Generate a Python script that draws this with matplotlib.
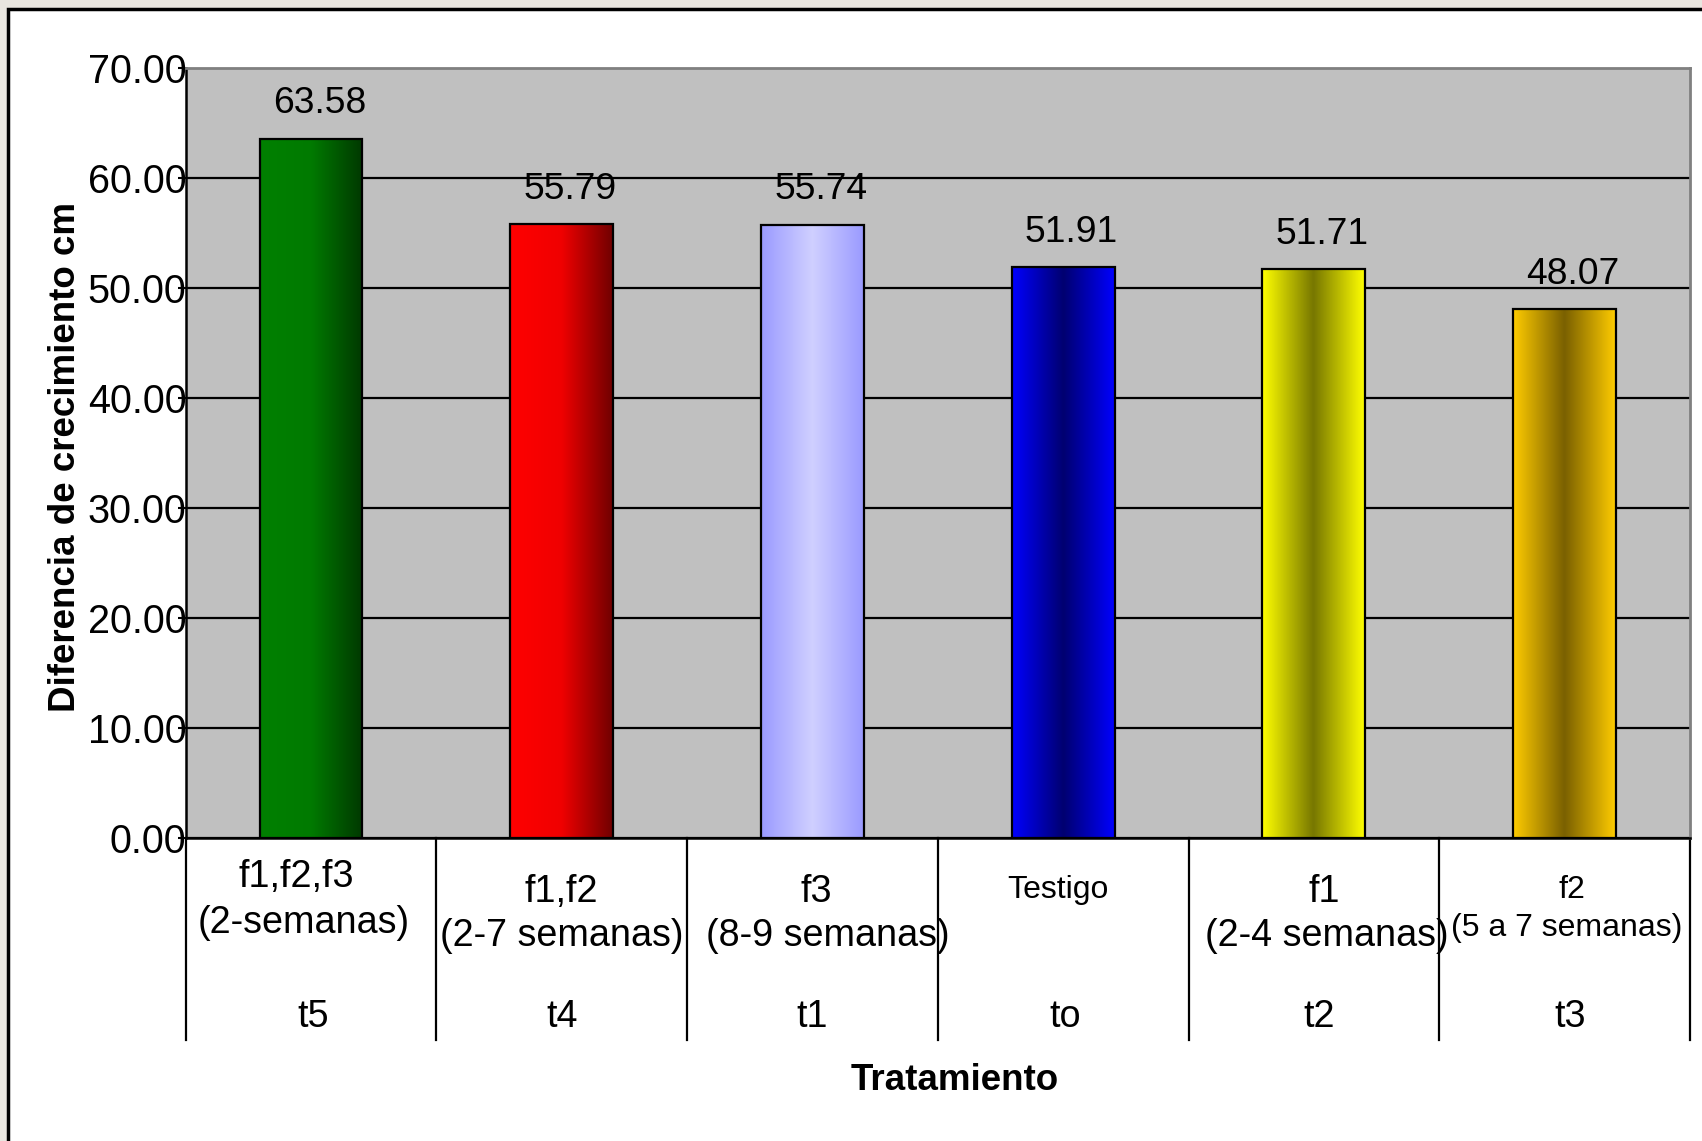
import numpy as np
import matplotlib.pyplot as plt
import matplotlib.transforms as mtransforms
from matplotlib.colors import LinearSegmentedColormap
from matplotlib.patches import Rectangle

plt.rcParams['font.family'] = ['Liberation Sans', 'DejaVu Sans']

# growth difference per treatment (cm)
codes = ['t5', 't4', 't1', 'to', 't2', 't3']
treatments = ['f1,f2,f3', 'f1,f2', 'f3', 'Testigo', 'f1', 'f2']
periods = ['(2-semanas)', '(2-7 semanas)', '(8-9 semanas)', '', '(2-4 semanas)', '(5 a 7 semanas)']
growth = [63.58, 55.79, 55.74, 51.91, 51.71, 48.07]
yticks = [0, 10, 20, 30, 40, 50, 60, 70]

# left -> right shading of each bar
shades = [
    ['#008000', '#007a00', '#003800'],
    ['#ff0000', '#f00000', '#700000'],
    ['#9a9aff', '#d0d0ff', '#9a9aff'],
    ['#0000ff', '#000070', '#0000ff'],
    ['#ffff00', '#777700', '#ffff00'],
    ['#ffcc00', '#7a6000', '#ffcc00'],
]

W, H = 1702, 1141
fig = plt.figure(figsize=(W / 100, H / 100), dpi=100, facecolor='#e9e6e0')

# white slide panel with black frame
frame = Rectangle((8 / W, -0.05), 1.1, 1 - 9 / H + 0.05, transform=fig.transFigure,
                  facecolor='white', edgecolor='black', lw=2.5, zorder=-5)
fig.patches.append(frame)

ax_l, ax_r, ax_t, ax_b = 185.6, 1690, 68, 838
ax = fig.add_axes([ax_l / W, 1 - ax_b / H, (ax_r - ax_l) / W, (ax_b - ax_t) / H])
ax.set_facecolor('#c0c0c0')

x = np.arange(len(growth))
bar_w = 0.41
bars = ax.bar(x, growth, width=bar_w, facecolor='none', edgecolor='black', lw=1.6, zorder=3)

grad = np.linspace(0, 1, 256).reshape(1, -1)
for b, cols in zip(bars, shades):
    cmap = LinearSegmentedColormap.from_list('bar', cols)
    x0, w, h = b.get_x(), b.get_width(), b.get_height()
    im = ax.imshow(grad, cmap=cmap, aspect='auto', extent=(x0, x0 + w, 0, h),
                   interpolation='bicubic', zorder=2)
    im.set_clip_path(b)

for xi, v in zip(x, growth):
    ax.annotate(f'{v:.2f}', (xi, v), xytext=(6, 12.5), textcoords='offset points',
                ha='center', va='bottom', fontsize=26.8, color='black', zorder=4)

ax.set_xlim(-0.5, len(growth) - 0.5)
ax.set_ylim(0, 70)
ax.set_yticks(yticks)
ax.set_yticklabels([f'{t:.2f}' for t in yticks])
ax.tick_params(axis='y', length=6, width=1.5, pad=-6.5, labelsize=28.5, color='black')
ax.set_xticks([])

ax.yaxis.grid(True, color='black', lw=1.6, zorder=1)
ax.set_axisbelow(True)
ax.yaxis.get_gridlines()[-1].set_visible(False)

for side in ['left', 'bottom']:
    ax.spines[side].set_color('black')
    ax.spines[side].set_linewidth(1.8)
for side in ['top', 'right']:
    ax.spines[side].set_color('#808080')
    ax.spines[side].set_linewidth(2)

# category table under the axis
trans = mtransforms.blended_transform_factory(ax.transData, ax.transAxes)
px = lambda ypix: -(ypix - ax_b) / (ax_b - ax_t)
table_bottom = px(1040)
for edge in np.arange(len(growth) + 1) - 0.5:
    ax.plot([edge, edge], [0, table_bottom], transform=trans, color='black',
            lw=1.6, clip_on=False)

# (name y, period y, font size, name dx, period dx, code dx)
rows = [(877, 923, 27.2, -0.06, -0.03, 0.01),
        (892, 936, 27.2, 0.0, 0.0, 0.0),
        (892, 936, 27.2, 0.015, 0.06, 0.0),
        (890, None, 23, -0.02, 0.0, 0.01),
        (892, 936, 27.2, 0.04, 0.05, 0.02),
        (890, 928, 23, 0.03, 0.01, 0.02)]
for xi, name, per, code, (y1, y2, fs, d1, d2, d3) in zip(x, treatments, periods, codes, rows):
    ax.text(xi + d1, px(y1), name, transform=trans, ha='center', va='center', fontsize=fs)
    if per:
        ax.text(xi + d2, px(y2), per, transform=trans, ha='center', va='center', fontsize=fs)
    ax.text(xi + d3, px(1017), code, transform=trans, ha='center', va='center', fontsize=27.2)

fig.text(66 / W, 1 - 457 / H, 'Diferencia de crecimiento cm', rotation=90,
         ha='center', va='center', fontsize=26.5, fontweight='bold')
fig.text(955 / W, 1 - 1081 / H, 'Tratamiento', ha='center', va='center',
         fontsize=26.5, fontweight='bold')

fig.savefig('out.png', dpi=100, facecolor=fig.get_facecolor())
